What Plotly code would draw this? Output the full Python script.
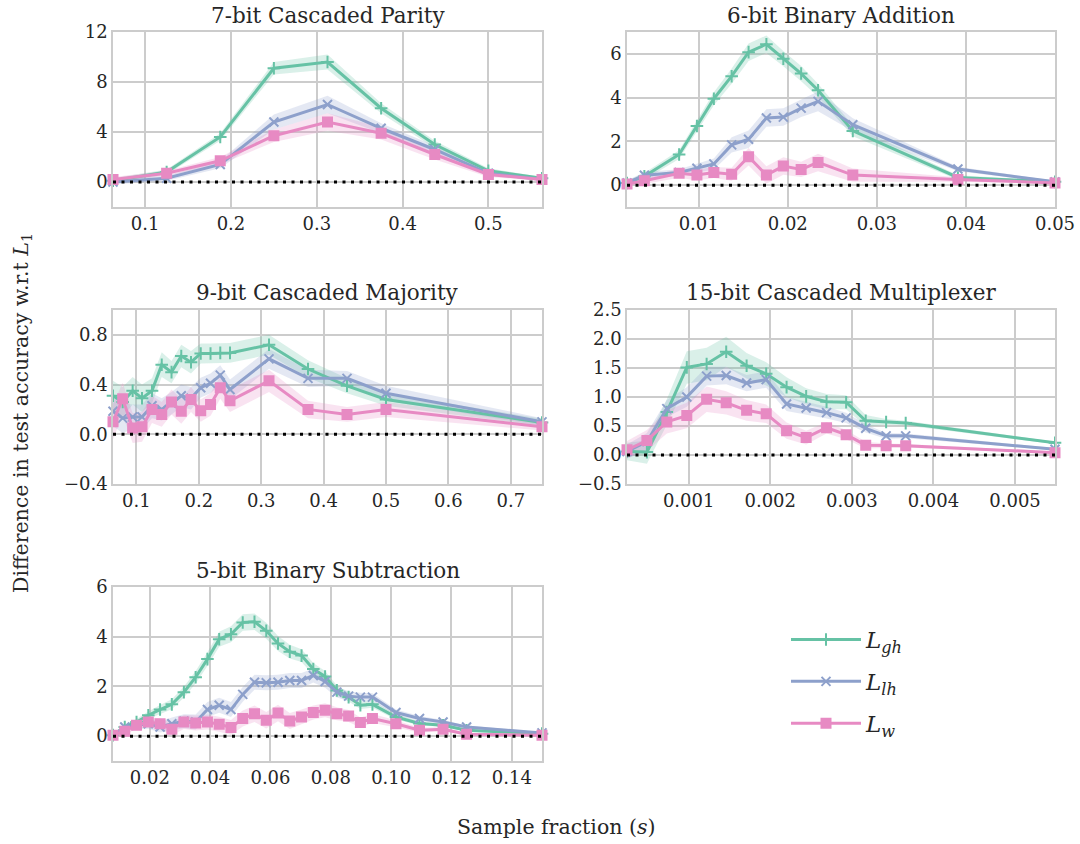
import plotly.graph_objects as go

# ---------------- data ----------------
series_names = ["L_gh", "L_lh", "L_w"]
legend_labels = ["<i>L<sub>gh</sub></i>", "<i>L<sub>lh</sub></i>", "<i>L<sub>w</sub></i>"]
colors = ["#66c2a5", "#8da0cb", "#e78ac3"]
fills = ["rgba(102,194,165,0.24)", "rgba(141,160,203,0.24)", "rgba(231,138,195,0.24)"]
symbols = ["cross-thin-open", "x-thin-open", "square"]

titles = ["7-bit Cascaded Parity", "6-bit Binary Addition", "9-bit Cascaded Majority",
          "15-bit Cascaded Multiplexer", "5-bit Binary Subtraction"]

# 7-bit Cascaded Parity
par_x = [0.0625, 0.125, 0.1875, 0.25, 0.3125, 0.375, 0.4375, 0.5, 0.5625]
par_gh = [0.1, 0.8, 3.6, 9.1, 9.6, 5.9, 3.0, 0.9, 0.3]
par_lh = [0.0, 0.3, 1.4, 4.8, 6.2, 4.3, 2.6, 0.7, 0.2]
par_w = [0.2, 0.7, 1.7, 3.7, 4.8, 3.9, 2.2, 0.6, 0.2]
par_gh_sd = [0.2, 0.2, 0.3, 0.5, 0.6, 0.4, 0.3, 0.2, 0.1]
par_lh_sd = [0.2, 0.2, 0.3, 0.6, 0.7, 0.4, 0.3, 0.2, 0.1]
par_w_sd = [0.2, 0.2, 0.3, 0.5, 0.7, 0.5, 0.4, 0.2, 0.1]

# 6-bit Binary Addition
add_x = [0.00195, 0.0039, 0.0078, 0.0098, 0.0117, 0.0137, 0.0156, 0.0176, 0.0195,
         0.0215, 0.0234, 0.0273, 0.0391, 0.05]
add_gh = [0.1, 0.4, 1.4, 2.7, 3.95, 4.98, 6.08, 6.44, 5.78, 5.1, 4.34, 2.48, 0.35, 0.15]
add_lh = [0.1, 0.45, 0.58, 0.77, 0.97, 1.84, 2.1, 3.07, 3.11, 3.52, 3.83, 2.76, 0.74, 0.15]
add_w = [0.05, 0.2, 0.54, 0.46, 0.58, 0.5, 1.3, 0.46, 0.87, 0.72, 1.04, 0.46, 0.26, 0.1]
add_gh_sd = [0.1, 0.15, 0.2, 0.25, 0.3, 0.35, 0.4, 0.4, 0.35, 0.35, 0.3, 0.25, 0.1, 0.05]
add_lh_sd = [0.1, 0.15, 0.15, 0.2, 0.25, 0.35, 0.4, 0.4, 0.4, 0.4, 0.45, 0.3, 0.1, 0.05]
add_w_sd = [0.1, 0.15, 0.2, 0.25, 0.25, 0.3, 0.4, 0.4, 0.4, 0.35, 0.4, 0.3, 0.1, 0.05]

# 9-bit Cascaded Majority
maj_x = [0.0625, 0.078, 0.094, 0.109, 0.125, 0.1406, 0.1563, 0.1719, 0.1875, 0.2031,
         0.2188, 0.2344, 0.25, 0.3125, 0.375, 0.4375, 0.5, 0.75]
maj_gh = [0.31, 0.26, 0.35, 0.29, 0.35, 0.56, 0.5, 0.63, 0.58, 0.65, 0.65, 0.655, 0.655,
          0.72, 0.525, 0.39, 0.28, 0.095]
maj_lh = [0.185, 0.13, 0.14, 0.14, 0.23, 0.2, 0.25, 0.31, 0.29, 0.375, 0.41, 0.476, 0.36,
          0.607, 0.45, 0.45, 0.33, 0.1]
maj_w = [0.1, 0.285, 0.05, 0.06, 0.2, 0.16, 0.26, 0.185, 0.28, 0.19, 0.24, 0.375, 0.27,
         0.43, 0.2, 0.16, 0.2, 0.06]
maj_gh_sd = [0.12, 0.12, 0.11, 0.11, 0.1, 0.1, 0.09, 0.09, 0.09, 0.08, 0.08, 0.08, 0.08,
             0.08, 0.07, 0.06, 0.05, 0.03]
maj_lh_sd = [0.12, 0.12, 0.1, 0.1, 0.1, 0.09, 0.09, 0.09, 0.09, 0.08, 0.08, 0.08, 0.08,
             0.08, 0.07, 0.06, 0.06, 0.03]
maj_w_sd = [0.14, 0.13, 0.12, 0.12, 0.11, 0.1, 0.1, 0.1, 0.1, 0.09, 0.09, 0.09, 0.09,
            0.09, 0.07, 0.06, 0.06, 0.03]

# 15-bit Cascaded Multiplexer
mux_x = [0.000244, 0.000488, 0.000732, 0.000977, 0.00122, 0.00146, 0.00171, 0.00195,
         0.0022, 0.00244, 0.00269, 0.00293, 0.00317, 0.00342, 0.00366, 0.00549]
mux_gh = [0.06, 0.05, 0.74, 1.51, 1.57, 1.78, 1.54, 1.4, 1.17, 1.01, 0.92, 0.91, 0.59,
          0.57, 0.55, 0.21]
mux_lh = [0.06, 0.23, 0.8, 1.0, 1.36, 1.37, 1.24, 1.3, 0.88, 0.81, 0.73, 0.64, 0.46,
          0.33, 0.33, 0.1]
mux_w = [0.09, 0.25, 0.57, 0.68, 0.96, 0.9, 0.77, 0.71, 0.42, 0.3, 0.47, 0.35, 0.17,
         0.16, 0.16, 0.04]
mux_gh_sd = [0.15, 0.2, 0.22, 0.28, 0.28, 0.26, 0.22, 0.2, 0.17, 0.14, 0.13, 0.12, 0.1,
             0.05, 0.04, 0.02]
mux_lh_sd = [0.12, 0.15, 0.15, 0.17, 0.16, 0.15, 0.14, 0.14, 0.12, 0.11, 0.1, 0.09, 0.07,
             0.05, 0.04, 0.02]
mux_w_sd = [0.15, 0.18, 0.2, 0.22, 0.22, 0.2, 0.18, 0.16, 0.14, 0.12, 0.1, 0.08, 0.06,
            0.04, 0.03, 0.02]

# 5-bit Binary Subtraction
sub_x = [0.0078, 0.0117, 0.0156, 0.0195, 0.0234, 0.0273, 0.0313, 0.0352, 0.0391, 0.043,
         0.0469, 0.0508, 0.0547, 0.0586, 0.0625, 0.0664, 0.0703, 0.0742, 0.0781, 0.082,
         0.0859, 0.0898, 0.0938, 0.1016, 0.1094, 0.1172, 0.125, 0.15]
sub_gh = [0.04, 0.37, 0.57, 0.84, 1.07, 1.28, 1.77, 2.37, 3.1, 3.9, 4.1, 4.57, 4.6, 4.24,
          3.73, 3.4, 3.24, 2.7, 2.4, 1.84, 1.57, 1.24, 1.28, 0.77, 0.51, 0.44, 0.24, 0.1]
sub_lh = [0.04, 0.37, 0.44, 0.5, 0.37, 0.5, 0.6, 0.57, 1.07, 1.24, 1.07, 1.68, 2.17, 2.15,
          2.17, 2.24, 2.24, 2.44, 2.2, 1.77, 1.61, 1.57, 1.57, 0.95, 0.71, 0.57, 0.37, 0.13]
sub_w = [0.04, 0.2, 0.44, 0.57, 0.5, 0.28, 0.57, 0.53, 0.57, 0.48, 0.35, 0.71, 0.9, 0.64,
         0.93, 0.61, 0.77, 0.95, 1.04, 0.9, 0.81, 0.55, 0.71, 0.5, 0.24, 0.28, 0.08, 0.04]
sub_gh_sd = [0.05, 0.1, 0.12, 0.15, 0.18, 0.2, 0.22, 0.25, 0.28, 0.3, 0.32, 0.33, 0.33,
             0.32, 0.3, 0.28, 0.26, 0.24, 0.22, 0.2, 0.18, 0.15, 0.14, 0.1, 0.08, 0.06, 0.05, 0.03]
sub_lh_sd = [0.05, 0.12, 0.15, 0.2, 0.22, 0.25, 0.28, 0.3, 0.3, 0.3, 0.3, 0.3, 0.3, 0.3,
             0.3, 0.3, 0.3, 0.28, 0.25, 0.22, 0.2, 0.18, 0.16, 0.12, 0.1, 0.08, 0.06, 0.03]
sub_w_sd = [0.05, 0.12, 0.15, 0.2, 0.22, 0.25, 0.28, 0.3, 0.3, 0.3, 0.3, 0.32, 0.33, 0.33,
            0.33, 0.32, 0.3, 0.28, 0.28, 0.26, 0.24, 0.2, 0.18, 0.14, 0.1, 0.08, 0.06, 0.03]

panels = [
    (par_x, [par_gh, par_lh, par_w], [par_gh_sd, par_lh_sd, par_w_sd]),
    (add_x, [add_gh, add_lh, add_w], [add_gh_sd, add_lh_sd, add_w_sd]),
    (maj_x, [maj_gh, maj_lh, maj_w], [maj_gh_sd, maj_lh_sd, maj_w_sd]),
    (mux_x, [mux_gh, mux_lh, mux_w], [mux_gh_sd, mux_lh_sd, mux_w_sd]),
    (sub_x, [sub_gh, sub_lh, sub_w], [sub_gh_sd, sub_lh_sd, sub_w_sd]),
]

y_ranges = [[-2, 12], [-1, 7], [-0.4, 1.0], [-0.5, 2.5], [-1, 6]]
y_ticks = [[0, 4, 8, 12], [0, 2, 4, 6], [-0.4, 0.0, 0.4, 0.8],
           [-0.5, 0.0, 0.5, 1.0, 1.5, 2.0, 2.5], [0, 2, 4, 6]]
y_fmt = ["d", "d", ".1f", ".1f", "d"]
x_ticks = [[0.1, 0.2, 0.3, 0.4, 0.5], [0.01, 0.02, 0.03, 0.04, 0.05],
           [0.1, 0.2, 0.3, 0.4, 0.5, 0.6, 0.7], [0.001, 0.002, 0.003, 0.004, 0.005],
           [0.02, 0.04, 0.06, 0.08, 0.10, 0.12, 0.14]]
x_fmt = [".1f", ".2f", ".1f", ".3f", ".2f"]

# ---------------- layout geometry ----------------
W, H = 1080, 844
cols = [(113, 542), (627, 1055)]
rows = [(32, 207), (310, 484), (587, 761)]
positions = [(0, 0), (0, 1), (1, 0), (1, 1), (2, 0)]

FONT = "DejaVu Serif"
TXT = "#262626"
GRID = "#cccccc"
TICK_SIZE = 18
TITLE_SIZE = 21.5
LABEL_SIZE = 20.5

fig = go.Figure()
layout = dict(
    width=W, height=H, margin=dict(l=0, r=0, t=0, b=0, autoexpand=False),
    paper_bgcolor="white", plot_bgcolor="white",
    font=dict(family=FONT, size=TICK_SIZE, color=TXT),
    showlegend=True,
)
annotations = []
shapes = []

for i, (px, ys, sds) in enumerate(panels):
    r, c = positions[i]
    xa = "x" if i == 0 else f"x{i+1}"
    ya = "y" if i == 0 else f"y{i+1}"
    xkey = "xaxis" if i == 0 else f"xaxis{i+1}"
    ykey = "yaxis" if i == 0 else f"yaxis{i+1}"
    x0, x1 = cols[c]
    yt, yb = rows[r]
    common = dict(showgrid=True, gridcolor=GRID, gridwidth=1.5, showline=True,
                  linecolor=GRID, linewidth=1.5, mirror=True, zeroline=False, ticks="",
                  automargin=False,
                  tickfont=dict(size=TICK_SIZE, family=FONT, color=TXT))
    layout[xkey] = dict(domain=[x0 / W, x1 / W], anchor=ya, range=[px[0], px[-1]],
                        tickvals=x_ticks[i], tickformat=x_fmt[i], **common)
    layout[ykey] = dict(domain=[1 - yb / H, 1 - yt / H], anchor=xa, range=y_ranges[i],
                        tickvals=y_ticks[i], tickformat=y_fmt[i], **common)
    # bands
    for k in range(3):
        up = [m + s for m, s in zip(ys[k], sds[k])]
        lo = [m - s for m, s in zip(ys[k], sds[k])]
        fig.add_trace(go.Scatter(
            x=list(px) + list(px)[::-1], y=up + lo[::-1], fill="toself",
            fillcolor=fills[k], line=dict(width=0), mode="lines",
            hoverinfo="skip", showlegend=False, xaxis=xa, yaxis=ya))
    # zero line
    shapes.append(dict(type="line", xref=f"{xa} domain", yref=ya, x0=0, x1=1, y0=0, y1=0,
                       line=dict(color="black", width=3, dash="3px,5.5px"), layer="above"))
    # lines
    for k in range(3):
        fig.add_trace(go.Scatter(
            x=px, y=ys[k], mode="lines+markers", name=legend_labels[k],
            line=dict(color=colors[k], width=3),
            marker=dict(symbol=symbols[k], size=9, color=colors[k],
                        line=dict(color=colors[k], width=2)),
            showlegend=(i == 0), legendgroup=series_names[k],
            xaxis=xa, yaxis=ya, cliponaxis=False))
    title_y = {0: 15, 1: 293, 2: 570}[r]
    annotations.append(dict(text=titles[i], x=(x0 + x1) / 2 / W, y=1 - title_y / H,
                            xref="paper", yref="paper", showarrow=False,
                            xanchor="center", yanchor="middle",
                            font=dict(size=TITLE_SIZE, family=FONT, color=TXT)))

annotations.append(dict(text="Difference in test accuracy w.r.t <i>L</i><sub>1</sub>",
                        x=22 / W, y=1 - 413 / H, xref="paper", yref="paper",
                        showarrow=False, textangle=-90, xanchor="center", yanchor="middle",
                        font=dict(size=LABEL_SIZE, family=FONT, color=TXT)))
annotations.append(dict(text="Sample fraction (<i>s</i>)", x=556 / W, y=1 - 827 / H,
                        xref="paper", yref="paper", showarrow=False,
                        xanchor="center", yanchor="middle",
                        font=dict(size=LABEL_SIZE, family=FONT, color=TXT)))

layout["annotations"] = annotations
layout["shapes"] = shapes
layout["legend"] = dict(x=786 / W, y=1 - 618 / H, xanchor="left", yanchor="top",
                        font=dict(size=23, family=FONT, color=TXT),
                        bgcolor="rgba(0,0,0,0)", traceorder="grouped",
                        tracegroupgap=9, itemwidth=70)
fig.update_layout(**layout)
fig.write_html("out.html", config={"displayModeBar": False},
               post_script="document.body.style.margin='0px';")
